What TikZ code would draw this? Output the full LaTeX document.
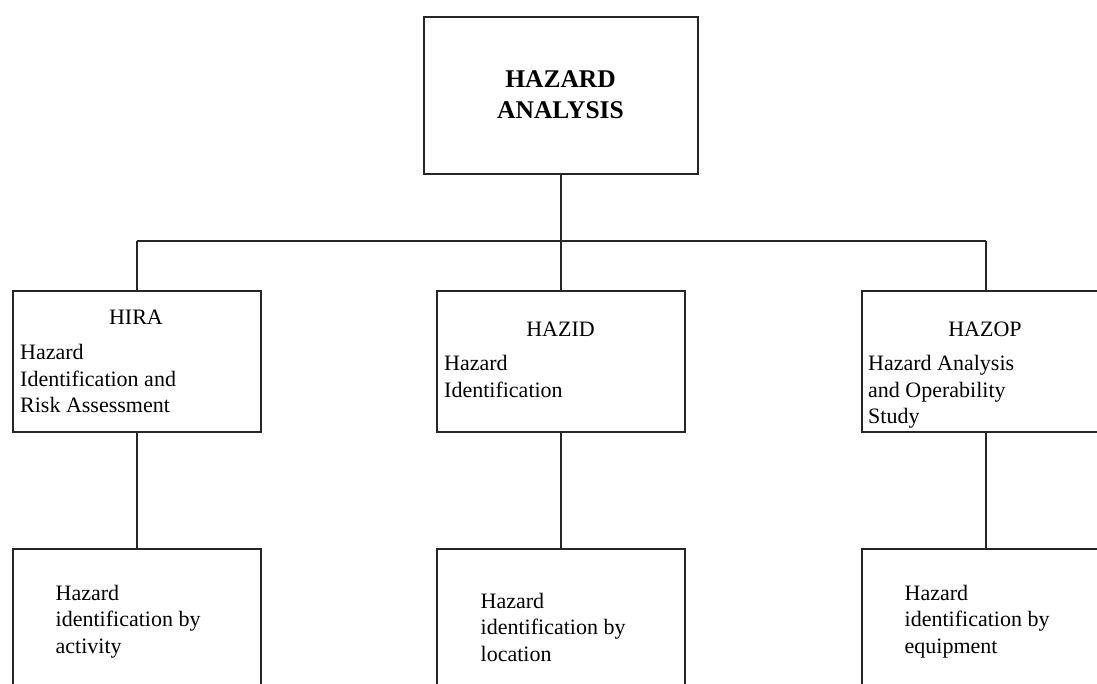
\documentclass[tikz,border=0pt]{standalone}
\usepackage{fontspec}
\setmainfont{Liberation Serif}
\begin{document}
\begin{tikzpicture}[x=1pt,y=-1pt,
  ln/.style={line width=1.7pt,draw=black!85},
  box/.style={ln,rectangle,inner sep=0pt,anchor=north west},
  txt/.style={inner sep=0pt,font=\fontsize{22}{26.5}\selectfont},
  ttl/.style={inner sep=0pt,font=\fontsize{25.5}{31}\selectfont\bfseries}]
\clip (0,0) rectangle (1097,684);
\fill[white] (0,0) rectangle (1097,684);
% boxes
\node[box,minimum width=274pt,minimum height=157pt] (top) at (423,16) {};
\node[box,minimum width=248pt,minimum height=141pt] (hira) at (12,290) {};
\node[box,minimum width=248pt,minimum height=141pt] (hazid) at (436,290) {};
\node[box,minimum width=248pt,minimum height=141pt] (hazop) at (861,290) {};
\node[box,minimum width=248pt,minimum height=160pt] (act) at (12,548) {};
\node[box,minimum width=248pt,minimum height=160pt] (loc) at (436,548) {};
\node[box,minimum width=248pt,minimum height=160pt] (equ) at (861,548) {};
% connectors
\coordinate (bus) at (560,241);
\draw[ln] (top.south) -- (top.south |- bus);
\draw[ln] (hira.north |- bus) -- (hazop.north |- bus);
\draw[ln] (hira.north |- bus) -- (hira.north);
\draw[ln] (hazid.north |- bus) -- (hazid.north);
\draw[ln] (hazop.north |- bus) -- (hazop.north);
\draw[ln] (hira.south) -- (act.north);
\draw[ln] (hazid.south) -- (loc.north);
\draw[ln] (hazop.south) -- (equ.north);
% texts
\node[ttl,anchor=base] (t1) at (560.5,87.3) {HAZARD};
\node[ttl,anchor=base] (t2) at (560.5,118.3) {ANALYSIS};
\node[txt,anchor=base] (hiral) at (136,324.5) {HIRA};
\node[txt,anchor=base west] (hirat) at (20,359.5) {\begin{tabular}[t]{@{}l@{}}Hazard\\Identification and\\Risk Assessment\end{tabular}};
\node[txt,anchor=base] (hazidl) at (560.5,336.5) {HAZID};
\node[txt,anchor=base west] (hazidt) at (444,370.5) {\begin{tabular}[t]{@{}l@{}}Hazard\\Identification\end{tabular}};
\node[txt,anchor=base] (hazopl) at (985,336.5) {HAZOP};
\node[txt,anchor=base west] (hazopt) at (868,370.5) {\begin{tabular}[t]{@{}l@{}}Hazard Analysis\\and Operability\\Study\end{tabular}};
\node[txt,anchor=base west] (actt) at (55.5,600) {\begin{tabular}[t]{@{}l@{}}Hazard\\identification by\\activity\end{tabular}};
\node[txt,anchor=base west] (loct) at (480.5,608) {\begin{tabular}[t]{@{}l@{}}Hazard\\identification by\\location\end{tabular}};
\node[txt,anchor=base west] (equt) at (904.5,600) {\begin{tabular}[t]{@{}l@{}}Hazard\\identification by\\equipment\end{tabular}};
\end{tikzpicture}
\end{document}
